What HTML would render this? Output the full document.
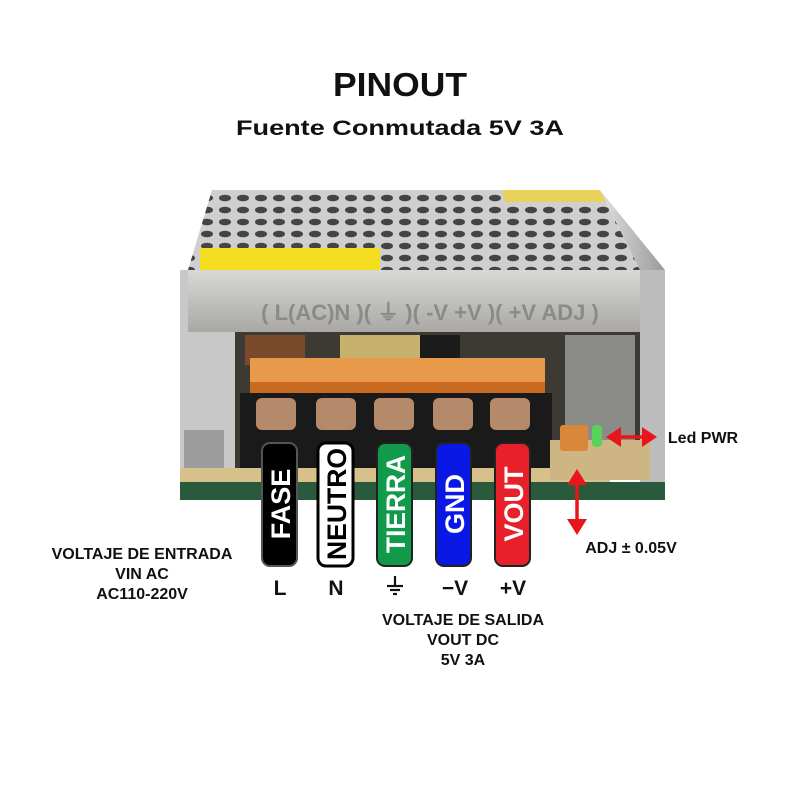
<!DOCTYPE html>
<html><head><meta charset="utf-8"><style>
html,body{margin:0;padding:0;background:#fff;width:800px;height:800px;overflow:hidden}
svg{display:block}
text{font-family:"Liberation Sans",sans-serif;font-weight:bold}
</style></head><body>
<svg width="800" height="800" viewBox="0 0 800 800">
<defs>
<pattern id="holes" x="0" y="0" width="18" height="12" patternUnits="userSpaceOnUse">
<rect width="18" height="12" fill="#cfcfcf"/>
<ellipse cx="9" cy="6" rx="6" ry="3.3" fill="#444"/>
</pattern>
<linearGradient id="front" x1="0" y1="0" x2="0" y2="1">
<stop offset="0" stop-color="#d8d8d6"/><stop offset="1" stop-color="#a9a8a4"/>
</linearGradient>
<linearGradient id="side" x1="0" y1="0" x2="1" y2="0">
<stop offset="0" stop-color="#e0e0e0"/><stop offset="1" stop-color="#9a9a9a"/>
</linearGradient>
</defs>
<text x="400" y="96" font-size="33" text-anchor="middle" fill="#111" textLength="134" lengthAdjust="spacingAndGlyphs">PINOUT</text>
<text x="400" y="135" font-size="21" text-anchor="middle" fill="#111" textLength="328" lengthAdjust="spacingAndGlyphs">Fuente Conmutada 5V 3A</text>

<polygon points="212,190 600,190 640,270 188,270" fill="url(#holes)"/>
<polygon points="502,190 600,190 606,202 505,202" fill="#e8d25a"/>
<rect x="200" y="248" width="180" height="24" fill="#f3dd1e"/>
<polygon points="640,270 600,190 665,270 665,500 640,500" fill="url(#side)"/>
<rect x="640" y="270" width="25" height="230" fill="#bcbcbc"/>
<rect x="180" y="270" width="55" height="230" fill="#c8c8c8"/>
<rect x="184" y="430" width="40" height="40" fill="#9c9c9c"/>
<rect x="235" y="330" width="405" height="150" fill="#3c3a33"/>
<rect x="245" y="335" width="60" height="30" fill="#7a4a2a"/>
<rect x="340" y="335" width="80" height="25" fill="#c7b26d"/>
<rect x="420" y="335" width="40" height="40" fill="#1b1b1b"/>
<rect x="565" y="335" width="70" height="120" fill="#8b8b88"/>
<rect x="188" y="270" width="452" height="62" fill="url(#front)"/>
<text x="430" y="320" font-size="22" text-anchor="middle" fill="#8a8a86" font-weight="normal">( L(AC)N )( ⏚ )( -V  +V )( +V ADJ )</text>
<rect x="250" y="358" width="295" height="38" fill="#e79a4a"/>
<rect x="250" y="382" width="295" height="14" fill="#c86a20"/>
<rect x="240" y="393" width="312" height="80" fill="#1a1a1a"/>
<g fill="#b58a6a">
<rect x="256" y="398" width="40" height="32" rx="6"/>
<rect x="316" y="398" width="40" height="32" rx="6"/>
<rect x="374" y="398" width="40" height="32" rx="6"/>
<rect x="433" y="398" width="40" height="32" rx="6"/>
<rect x="490" y="398" width="40" height="32" rx="6"/>
</g>
<rect x="180" y="468" width="430" height="14" fill="#d8c08a"/>
<rect x="550" y="440" width="100" height="40" fill="#cdb683"/>
<rect x="180" y="482" width="485" height="18" fill="#2a5a3c"/>
<rect x="560" y="425" width="28" height="26" fill="#d9883a" rx="3"/>
<rect x="592" y="425" width="10" height="22" fill="#5ad15a" rx="4"/>

<g stroke-width="2">
<rect x="262" y="443" width="35" height="123" rx="8" fill="#000" stroke="#555"/>
<rect x="318" y="443" width="35" height="123" rx="8" fill="#fff" stroke="#000" stroke-width="3"/>
<rect x="377" y="443" width="35" height="123" rx="8" fill="#109a4a" stroke="#222"/>
<rect x="436" y="443" width="35" height="123" rx="8" fill="#0a18e6" stroke="#222"/>
<rect x="495" y="443" width="35" height="123" rx="8" fill="#e8202a" stroke="#222"/>
</g>
<g font-size="27" text-anchor="middle">
<text transform="translate(290,504) rotate(-90)" fill="#fff">FASE</text>
<text transform="translate(346,504) rotate(-90)" fill="#000" textLength="112" lengthAdjust="spacingAndGlyphs">NEUTRO</text>
<text transform="translate(405,504) rotate(-90)" fill="#fff" textLength="98" lengthAdjust="spacingAndGlyphs">TIERRA</text>
<text transform="translate(464,504) rotate(-90)" fill="#fff">GND</text>
<text transform="translate(523,504) rotate(-90)" fill="#fff">VOUT</text>
</g>
<g font-size="21" text-anchor="middle" fill="#111">
<text x="280" y="595">L</text>
<text x="336" y="595">N</text>
<text x="455" y="595">−V</text>
<text x="513" y="595">+V</text>
</g>
<g stroke="#111" stroke-width="2.2">
<line x1="395" y1="576" x2="395" y2="586"/>
<line x1="387" y1="586" x2="403" y2="586"/>
<line x1="390" y1="590" x2="400" y2="590"/>
<line x1="393" y1="594" x2="397" y2="594"/>
</g>
<g font-size="16" text-anchor="middle" fill="#111">
<text x="142" y="559">VOLTAJE DE ENTRADA</text>
<text x="142" y="579">VIN AC</text>
<text x="142" y="599">AC110-220V</text>
<text x="463" y="625">VOLTAJE DE SALIDA</text>
<text x="463" y="645">VOUT DC</text>
<text x="463" y="665">5V 3A</text>
<text x="631" y="553">ADJ ± 0.05V</text>
<text x="703" y="443">Led PWR</text>
</g>
<g stroke="#e8151b" stroke-width="3.5">
<line x1="618" y1="437" x2="645" y2="437"/>
<line x1="577" y1="482" x2="577" y2="522"/>
</g>
<g fill="#e8151b">
<polygon points="606,437 621,427 621,447"/>
<polygon points="657,437 642,427 642,447"/>
<polygon points="577,469 567,485 587,485"/>
<polygon points="577,535 567,519 587,519"/>
</g>
</svg>
</body></html>
